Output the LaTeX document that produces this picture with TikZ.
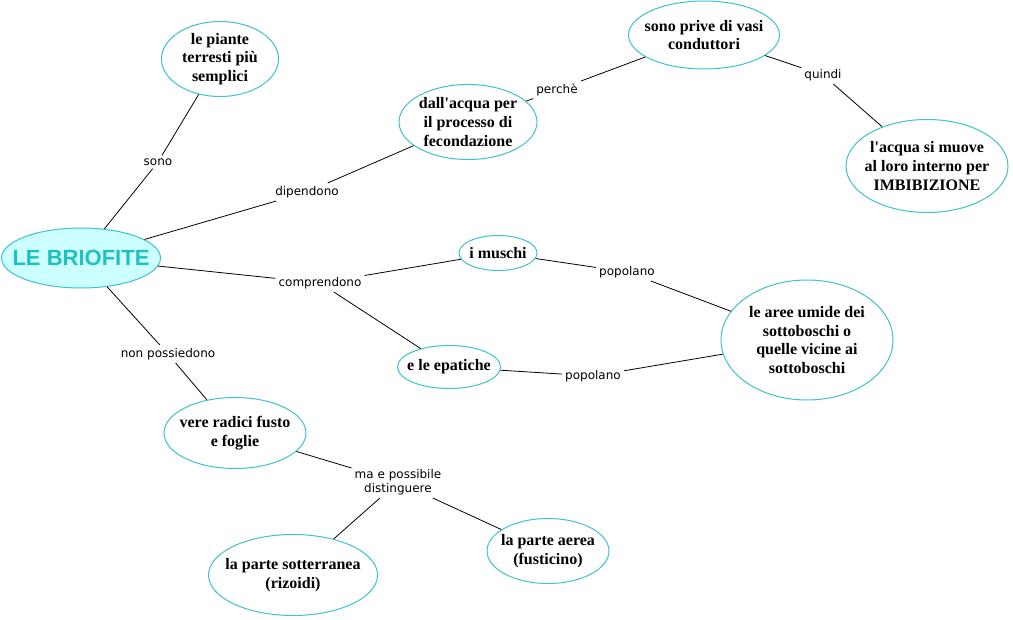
\documentclass[tikz,border=0pt]{standalone}
\usepackage{fontspec}
\setmainfont{Liberation Serif}
\newfontfamily\lblfont{DejaVu Sans}
\newfontfamily\rootfont{Liberation Sans}
\usetikzlibrary{shapes.geometric}
\definecolor{edgecol}{RGB}{64,194,204}
\definecolor{mainfill}{RGB}{204,255,255}
\definecolor{maintext}{RGB}{30,192,192}
\begin{document}
\begin{tikzpicture}[x=1pt,y=-1pt,
  concept/.style={ellipse,draw=edgecol,line width=1pt,fill=white,inner sep=0pt},
  ctext/.style={inner sep=0pt,align=center,font=\fontsize{16}{18.6}\selectfont\bfseries},
  lbl/.style={inner sep=3pt,align=center,font=\lblfont\fontsize{12}{14}\selectfont},
  conn/.style={draw=black,line width=0.8pt}]
\useasboundingbox (0,0) rectangle (1013,620);
\fill[white] (0,0) rectangle (1013,620);

% concepts
\node[concept,fill=mainfill,minimum width=159,minimum height=60,
  label={[inner sep=0pt,font=\rootfont\fontsize{22}{24}\selectfont\bfseries,text=maintext]center:LE BRIOFITE}] (main) at (81,258) {};
\node[concept,minimum width=117,minimum height=75,
  label={[ctext]center:le piante\\terresti più\\semplici}] (piante) at (220,59) {};
\node[concept,minimum width=138,minimum height=75,
  label={[ctext]center:dall\textquotesingle acqua per\\il processo di\\fecondazione}] (acqua) at (468,122) {};
\node[concept,minimum width=151,minimum height=68,
  label={[ctext]center:sono prive di vasi\\conduttori}] (prive) at (704,35) {};
\node[concept,minimum width=162,minimum height=93,
  label={[ctext]center:l\textquotesingle acqua si muove\\al loro interno per\\IMBIBIZIONE}] (imbib) at (927,166) {};
\node[concept,minimum width=78,minimum height=35,
  label={[ctext]center:i muschi}] (muschi) at (498,253) {};
\node[concept,minimum width=103,minimum height=43,
  label={[ctext]center:e le epatiche}] (epat) at (449,367) {};
\node[concept,minimum width=172,minimum height=120,
  label={[ctext]center:le aree umide dei\\sottoboschi o\\quelle vicine ai\\sottoboschi}] (aree) at (807,340) {};
\node[concept,minimum width=142,minimum height=71,
  label={[ctext]center:vere radici fusto\\e foglie}] (radici) at (235,433) {};
\node[concept,minimum width=169,minimum height=81,
  label={[ctext]center:la parte sotterranea\\(rizoidi)}] (sotter) at (293,575) {};
\node[concept,minimum width=122,minimum height=65,
  label={[ctext]center:la parte aerea\\(fusticino)}] (aerea) at (548,551) {};

% link labels
\node[lbl] (lsono) at (158,162) {sono};
\node[lbl] (ldip) at (307,192) {dipendono};
\node[lbl] (lperche) at (557,90) {perchè};
\node[lbl] (lquindi) at (823,75) {quindi};
\node[lbl] (lcompr) at (320,283) {comprendono};
\node[lbl] (lpop1) at (627,272) {popolano};
\node[lbl] (lpop2) at (593,376) {popolano};
\node[lbl] (lnon) at (168,354) {non possiedono};
\node[lbl] (lma) at (398,482) {ma e possibile\\distinguere};

% connectors
\draw[conn] (main) -- (lsono) -- (piante);
\draw[conn] (main) -- (ldip) -- (acqua);
\draw[conn] (acqua) -- (lperche) -- (prive);
\draw[conn] (prive) -- (lquindi) -- (imbib);
\draw[conn] (main) -- (lcompr) -- (muschi);
\draw[conn] (lcompr) -- (epat);
\draw[conn] (muschi) -- (lpop1) -- (aree);
\draw[conn] (epat) -- (lpop2) -- (aree);
\draw[conn] (main) -- (lnon) -- (radici);
\draw[conn] (radici) -- (lma) -- (sotter);
\draw[conn] (lma) -- (aerea);
\end{tikzpicture}
\end{document}
